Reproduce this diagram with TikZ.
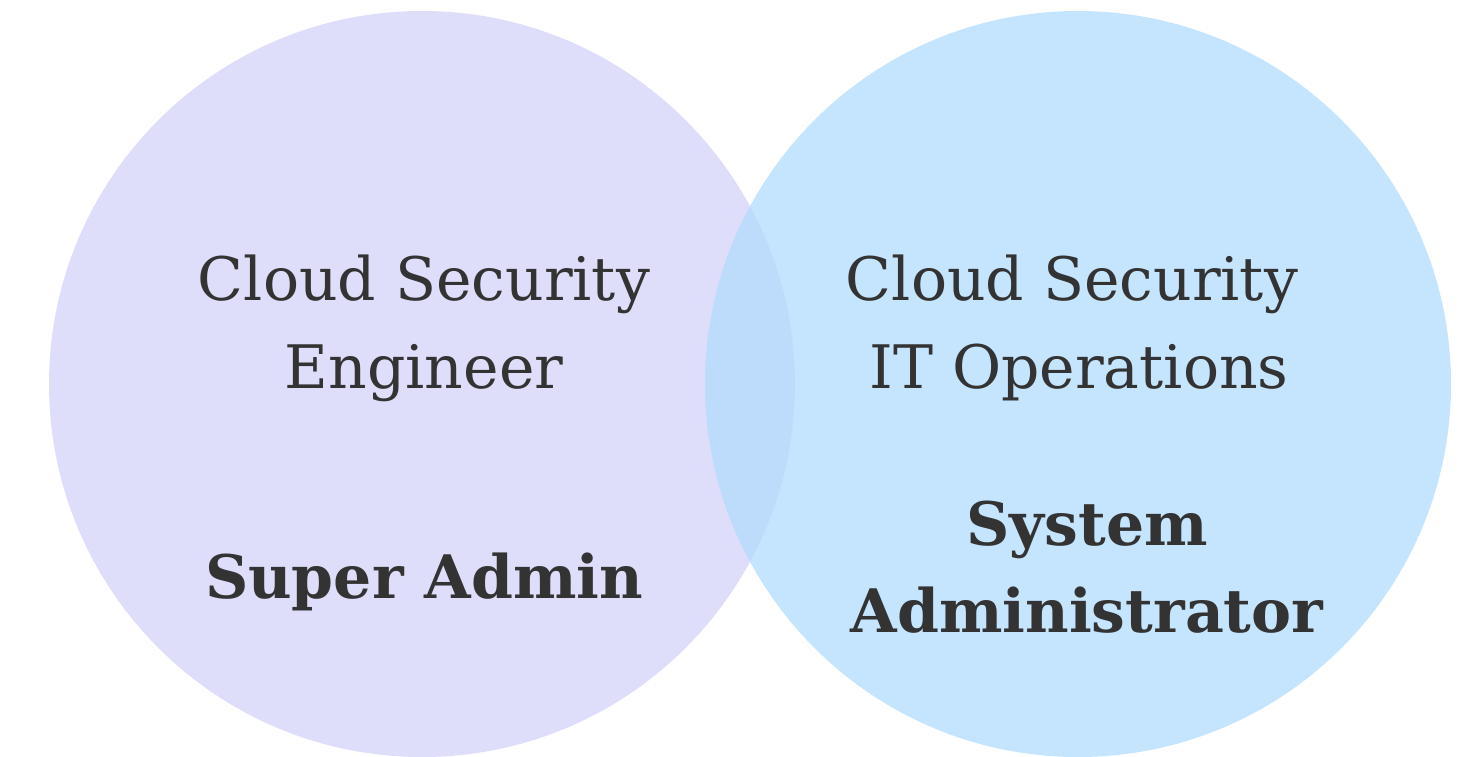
\documentclass[tikz,border=0pt]{standalone}
\usepackage{fontspec}
\setmainfont{DejaVu Serif}
\definecolor{leftfill}{HTML}{DEDDFA}
\definecolor{rightfill}{HTML}{C5E5FE}
\definecolor{bothfill}{HTML}{BDDCFB}
\definecolor{labeltext}{HTML}{333333}
\tikzset{
    role/.style = {text=labeltext, anchor=base, inner sep=0pt,
                   font=\fontsize{60}{72}\selectfont},
    rolebold/.style = {role, font=\fontsize{60}{72}\selectfont\bfseries},
}
\begin{document}
\begin{tikzpicture}[x=1pt, y=-1pt]
    \useasboundingbox (0,0) rectangle (1470,756);
    % the two sets
    \fill[leftfill] (422,384) circle[radius=373];
    \fill[rightfill] (1078,384) circle[radius=373];
    \begin{scope}
        \clip (422,384) circle[radius=373];
        \fill[bothfill] (1078,384) circle[radius=373];
    \end{scope}
    % left labels
    \node[role] (lefttop) at (424,300) {Cloud Security};
    \node[role] (leftmid) at (424,388) {Engineer};
    \node[rolebold] (leftrole) at (424,598) {Super Admin};
    % right labels
    \node[role] (righttop) at (1072,300) {Cloud Security};
    \node[role] (rightmid) at (1079,388) {IT Operations};
    \node[rolebold] (rightrole) at (1087,545) {System};
    \node[rolebold] (rightrole2) at (1087,632) {Administrator};
\end{tikzpicture}
\end{document}
